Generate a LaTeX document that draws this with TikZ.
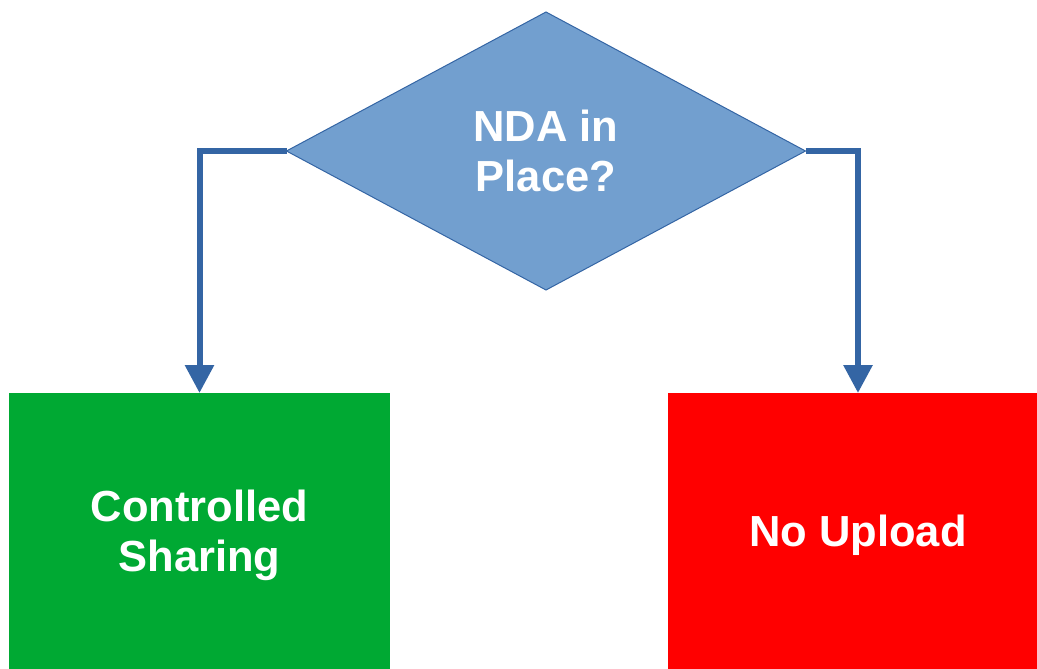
\documentclass[tikz,border=0pt]{standalone}
\usepackage{fontspec}
\setmainfont{Liberation Sans}
\usetikzlibrary{shapes.geometric,arrows.meta}
\definecolor{dblue}{HTML}{729FCF}
\definecolor{lblue}{HTML}{3465A4}
\definecolor{bgreen}{HTML}{00A933}
\definecolor{bred}{HTML}{FF0000}
\tikzset{
  lbl/.style={text=white, font=\bfseries\fontsize{43.5}{50}\selectfont, align=center},
  decision/.style={diamond, draw=lblue, line width=1pt, fill=dblue, minimum width=519pt, minimum height=278pt, inner sep=0pt, outer sep=0pt, lbl},
  outcome/.style={rectangle, minimum height=284pt, inner sep=0pt, outer sep=0pt, lbl},
  flow/.style={draw=lblue, line width=6pt, -{Triangle[width=28pt,length=28pt]}}
}
\begin{document}
\begin{tikzpicture}[x=1pt,y=-1pt]
\useasboundingbox (0,0) rectangle (1037,669);
\begin{scope}
\clip (0,0) rectangle (1037,669);
\node[decision] (nda) at (546,151) {NDA in\\Place?};
\node[outcome, fill=bgreen, minimum width=381pt] (share) at (199.5,535) {Controlled\\Sharing};
\node[outcome, fill=bred, minimum width=380pt] (noup) at (858,535) {No Upload};
\draw[flow] (nda.west) -| (share.north);
\draw[flow] (nda.east) -| (noup.north);
\end{scope}
\end{tikzpicture}
\end{document}
